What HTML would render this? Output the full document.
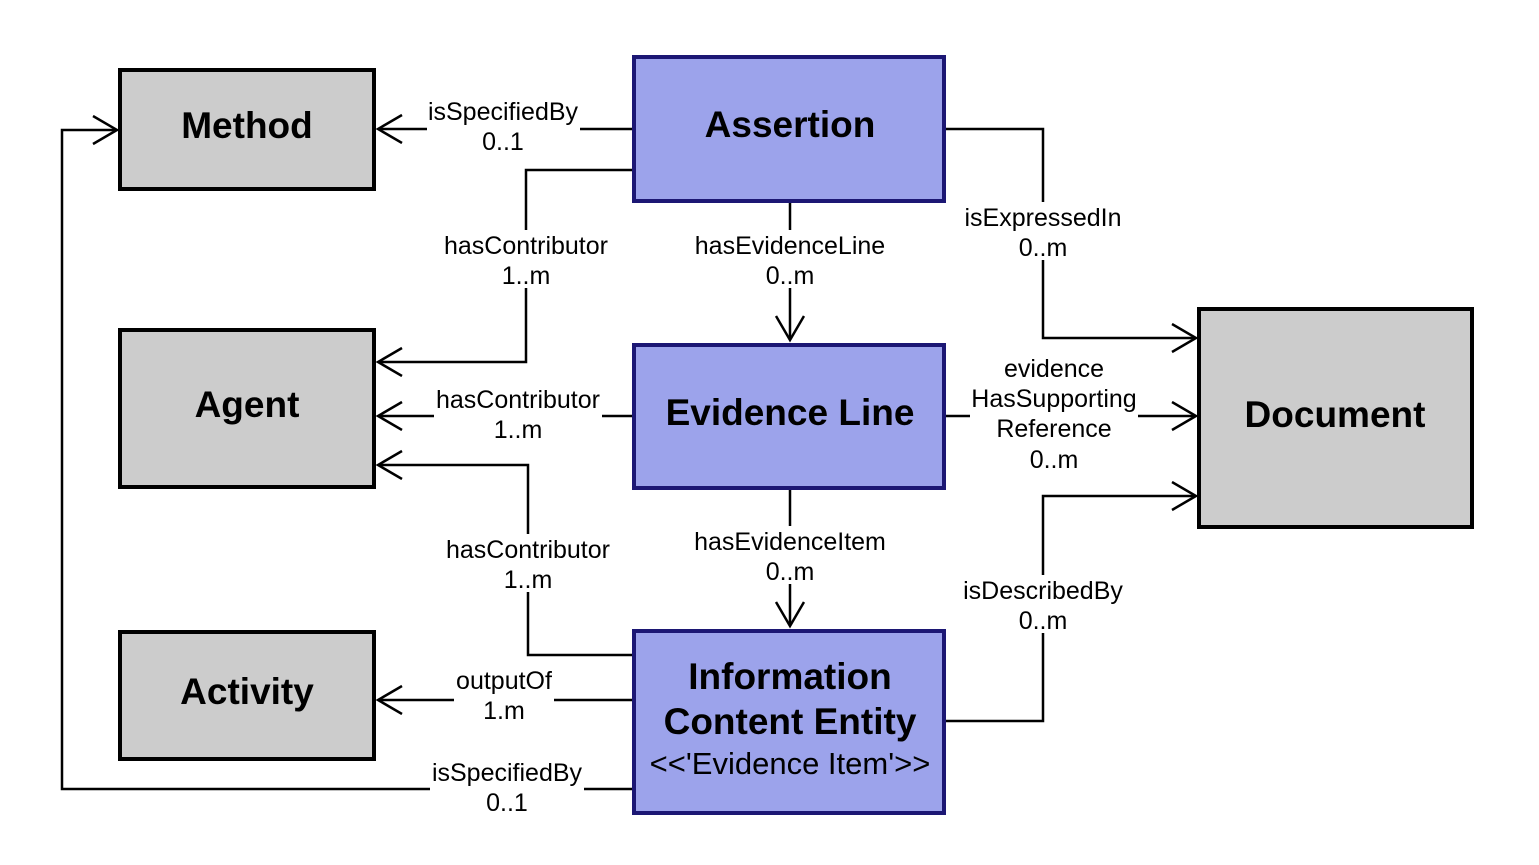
<!DOCTYPE html>
<html><head><meta charset="utf-8"><style>
html,body{margin:0;padding:0;background:#fff;}
svg{display:block;}
text{font-family:"Liberation Sans",sans-serif;}
.t{font-size:37px;font-weight:bold;text-anchor:middle;}
.l{font-size:25px;text-anchor:middle;}
.ln{stroke:#000;stroke-width:2.5;fill:none;}
.bg{fill:#fff;}
</style></head><body>
<svg width="1539" height="865" viewBox="0 0 1539 865" xmlns="http://www.w3.org/2000/svg">
<defs>
<marker id="a" markerWidth="32" markerHeight="32" refX="27" refY="15" orient="auto" markerUnits="userSpaceOnUse">
<path d="M3,1 L27,15 L3,29" fill="none" stroke="#000" stroke-width="2.5"/>
</marker>
</defs>
<path class="ln" d="M632,129 H378" marker-end="url(#a)"/>
<path class="ln" d="M632,170 H526 V362 H378" marker-end="url(#a)"/>
<path class="ln" d="M790,202 V340" marker-end="url(#a)"/>
<path class="ln" d="M946,129 H1043 V338 H1196" marker-end="url(#a)"/>
<path class="ln" d="M632,416 H378" marker-end="url(#a)"/>
<path class="ln" d="M946,416 H1196" marker-end="url(#a)"/>
<path class="ln" d="M790,489 V626" marker-end="url(#a)"/>
<path class="ln" d="M632,655 H528 V465 H378" marker-end="url(#a)"/>
<path class="ln" d="M632,700 H378" marker-end="url(#a)"/>
<path class="ln" d="M632,789 H62 V130 H117" marker-end="url(#a)"/>
<path class="ln" d="M946,721 H1043 V496 H1196" marker-end="url(#a)"/>
<rect class="bg" x="427" y="96" width="153" height="58"/>
<rect class="bg" x="442" y="230" width="168" height="58"/>
<rect class="bg" x="692" y="230" width="196" height="58"/>
<rect class="bg" x="962" y="202" width="162" height="58"/>
<rect class="bg" x="434" y="384" width="168" height="58"/>
<rect class="bg" x="970" y="353" width="168" height="120"/>
<rect class="bg" x="692" y="526" width="196" height="58"/>
<rect class="bg" x="444" y="534" width="168" height="58"/>
<rect class="bg" x="454" y="665" width="100" height="58"/>
<rect class="bg" x="430" y="757" width="154" height="58"/>
<rect class="bg" x="960" y="575" width="166" height="58"/>
<text class="l" x="503" y="120">isSpecifiedBy</text><text class="l" x="503" y="150">0..1</text>
<text class="l" x="526" y="254">hasContributor</text><text class="l" x="526" y="284">1..m</text>
<text class="l" x="790" y="254">hasEvidenceLine</text><text class="l" x="790" y="284">0..m</text>
<text class="l" x="1043" y="226">isExpressedIn</text><text class="l" x="1043" y="256">0..m</text>
<text class="l" x="518" y="408">hasContributor</text><text class="l" x="518" y="438">1..m</text>
<text class="l" x="1054" y="377">evidence</text><text class="l" x="1054" y="407">HasSupporting</text><text class="l" x="1054" y="437">Reference</text><text class="l" x="1054" y="468">0..m</text>
<text class="l" x="790" y="550">hasEvidenceItem</text><text class="l" x="790" y="580">0..m</text>
<text class="l" x="528" y="558">hasContributor</text><text class="l" x="528" y="588">1..m</text>
<text class="l" x="504" y="689">outputOf</text><text class="l" x="504" y="719">1.m</text>
<text class="l" x="507" y="781">isSpecifiedBy</text><text class="l" x="507" y="811">0..1</text>
<text class="l" x="1043" y="599">isDescribedBy</text><text class="l" x="1043" y="629">0..m</text>
<g fill="#cccccc" stroke="#000" stroke-width="4">
<rect x="120" y="70" width="254" height="119"/>
<rect x="120" y="330" width="254" height="157"/>
<rect x="120" y="632" width="254" height="127"/>
<rect x="1199" y="309" width="273" height="218"/>
</g>
<g fill="#9ca3eb" stroke="#1c1774" stroke-width="4">
<rect x="634" y="57" width="310" height="144"/>
<rect x="634" y="345" width="310" height="143"/>
<rect x="634" y="631" width="310" height="182"/>
</g>
<text class="t" x="247" y="138">Method</text>
<text class="t" x="247" y="417">Agent</text>
<text class="t" x="247" y="704">Activity</text>
<text class="t" x="1335" y="427">Document</text>
<text class="t" x="790" y="137">Assertion</text>
<text class="t" x="790" y="425">Evidence Line</text>
<text class="t" x="790" y="689">Information</text>
<text class="t" x="790" y="734">Content Entity</text>
<text x="790" y="774" style="font-size:31px;text-anchor:middle">&lt;&lt;'Evidence Item'&gt;&gt;</text>
</svg>
</body></html>
